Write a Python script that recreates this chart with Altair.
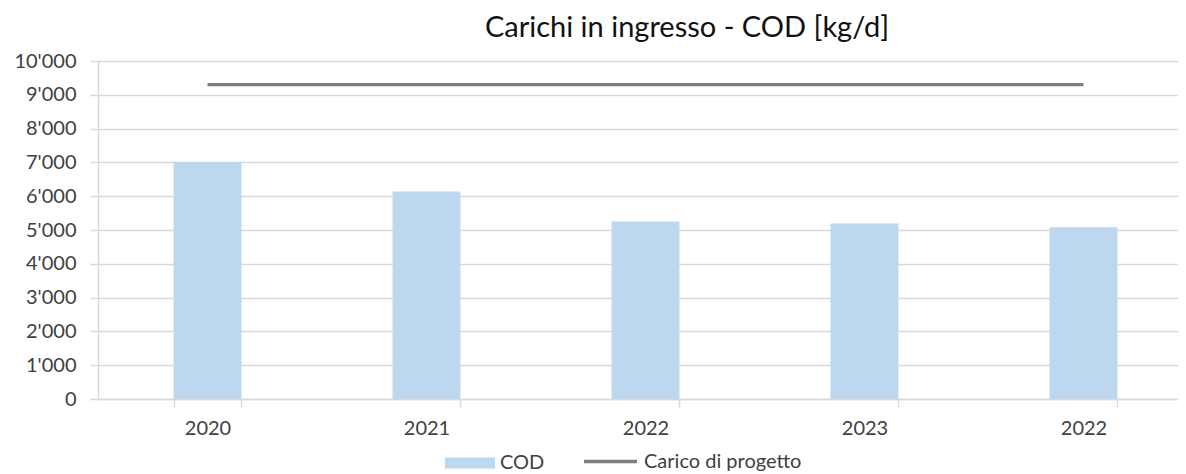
import altair as alt
import pandas as pd

# ---- data ----
years = ["2020", "2021", "2022", "2023", "2022"]
cod = [7010, 6140, 5250, 5190, 5080]
design_load = [9300, 9300, 9300, 9300, 9300]
bar_series = "COD"
line_series = "Carico di progetto"
y_ticks = [0, 1000, 2000, 3000, 4000, 5000, 6000, 7000, 8000, 9000, 10000]
title_text = "Carichi in ingresso - COD [kg/d]"

df = pd.DataFrame({
    "idx": list(range(len(years))),
    "cod": cod,
    "design": design_load,
    "s_bar": [bar_series] * len(years),
    "s_line": [line_series] * len(years),
})

FONT = "Lato"
GRID = "#d9d9d9"
TXT = "#404040"

label_expr = "[" + ",".join("'" + y + "'" for y in years) + "][datum.value]"

x = alt.X(
    "idx:O",
    scale=alt.Scale(range=[0, 1095], paddingInner=0.69, paddingOuter=0.345),
    axis=alt.Axis(
        title=None,
        labelExpr=label_expr,
        labelAngle=0,
        labelFont=FONT,
        labelFontSize=20,
        labelColor=TXT,
        labelPadding=11,
        tickBand="extent",
        tickSize=8,
        tickColor=GRID,
        tickWidth=1.5,
        domainColor=GRID,
        domainWidth=1.5,
        grid=False,
    ),
)

y_axis = alt.Axis(
    title=None,
    values=y_ticks,
    labelOverlap=False,
    labelExpr="replace(format(datum.value, ','), regexp(',', 'g'), \"'\")",
    labelFont=FONT,
    labelFontSize=20,
    labelColor=TXT,
    labelPadding=14,
    tickSize=8,
    tickColor=GRID,
    tickWidth=1.5,
    domainColor=GRID,
    domainWidth=1.5,
    grid=True,
    gridColor=GRID,
    gridWidth=1.5,
)
y_scale = alt.Scale(domain=[0, 10000], nice=False)

bars = alt.Chart(df).mark_bar(strokeWidth=0).encode(
    x=x,
    y=alt.Y("cod:Q", scale=y_scale, axis=y_axis),
    fill=alt.Fill(
        "s_bar:N",
        scale=alt.Scale(domain=[bar_series], range=["#bdd7ee"]),
        legend=alt.Legend(
            title=None,
            orient="none",
            legendX=347,
            legendY=377,
            padding=0,
            symbolType="M-1,-0.22H1V0.22H-1Z",
            symbolSize=2500,
            symbolStrokeWidth=0,
            labelFont=FONT,
            labelFontSize=20,
            labelColor=TXT,
            labelOffset=5,
        ),
    ),
)

line = alt.Chart(df).mark_line(strokeWidth=3.3, strokeCap="butt").encode(
    x=x,
    y=alt.Y("design:Q", scale=y_scale, axis=y_axis),
    stroke=alt.Stroke(
        "s_line:N",
        scale=alt.Scale(domain=[line_series], range=["#7f7f7f"]),
        legend=alt.Legend(
            title=None,
            orient="none",
            legendX=484,
            legendY=372,
            padding=0,
            symbolType="stroke",
            symbolSize=2809,
            symbolStrokeWidth=3.3,
            labelFont=FONT,
            labelFontSize=20,
            labelColor=TXT,
            labelOffset=5,
        ),
    ),
)

chart = (
    alt.layer(bars, line)
    .properties(
        width=1080,
        height=338,
        autosize=alt.AutoSizeParams(type="none"),
        padding={"left": 90, "top": 53, "right": 0, "bottom": 76},
        title=alt.TitleParams(
            title_text,
            font=FONT,
            fontSize=29,
            fontWeight="normal",
            color="#111111",
            anchor="middle",
            dx=49,
            dy=29,
            baseline="alphabetic",
            offset=14,
        ),
    )
    .configure_view(stroke=None)
)

chart.save("out.html", embed_options={"renderer": "svg", "actions": False})
